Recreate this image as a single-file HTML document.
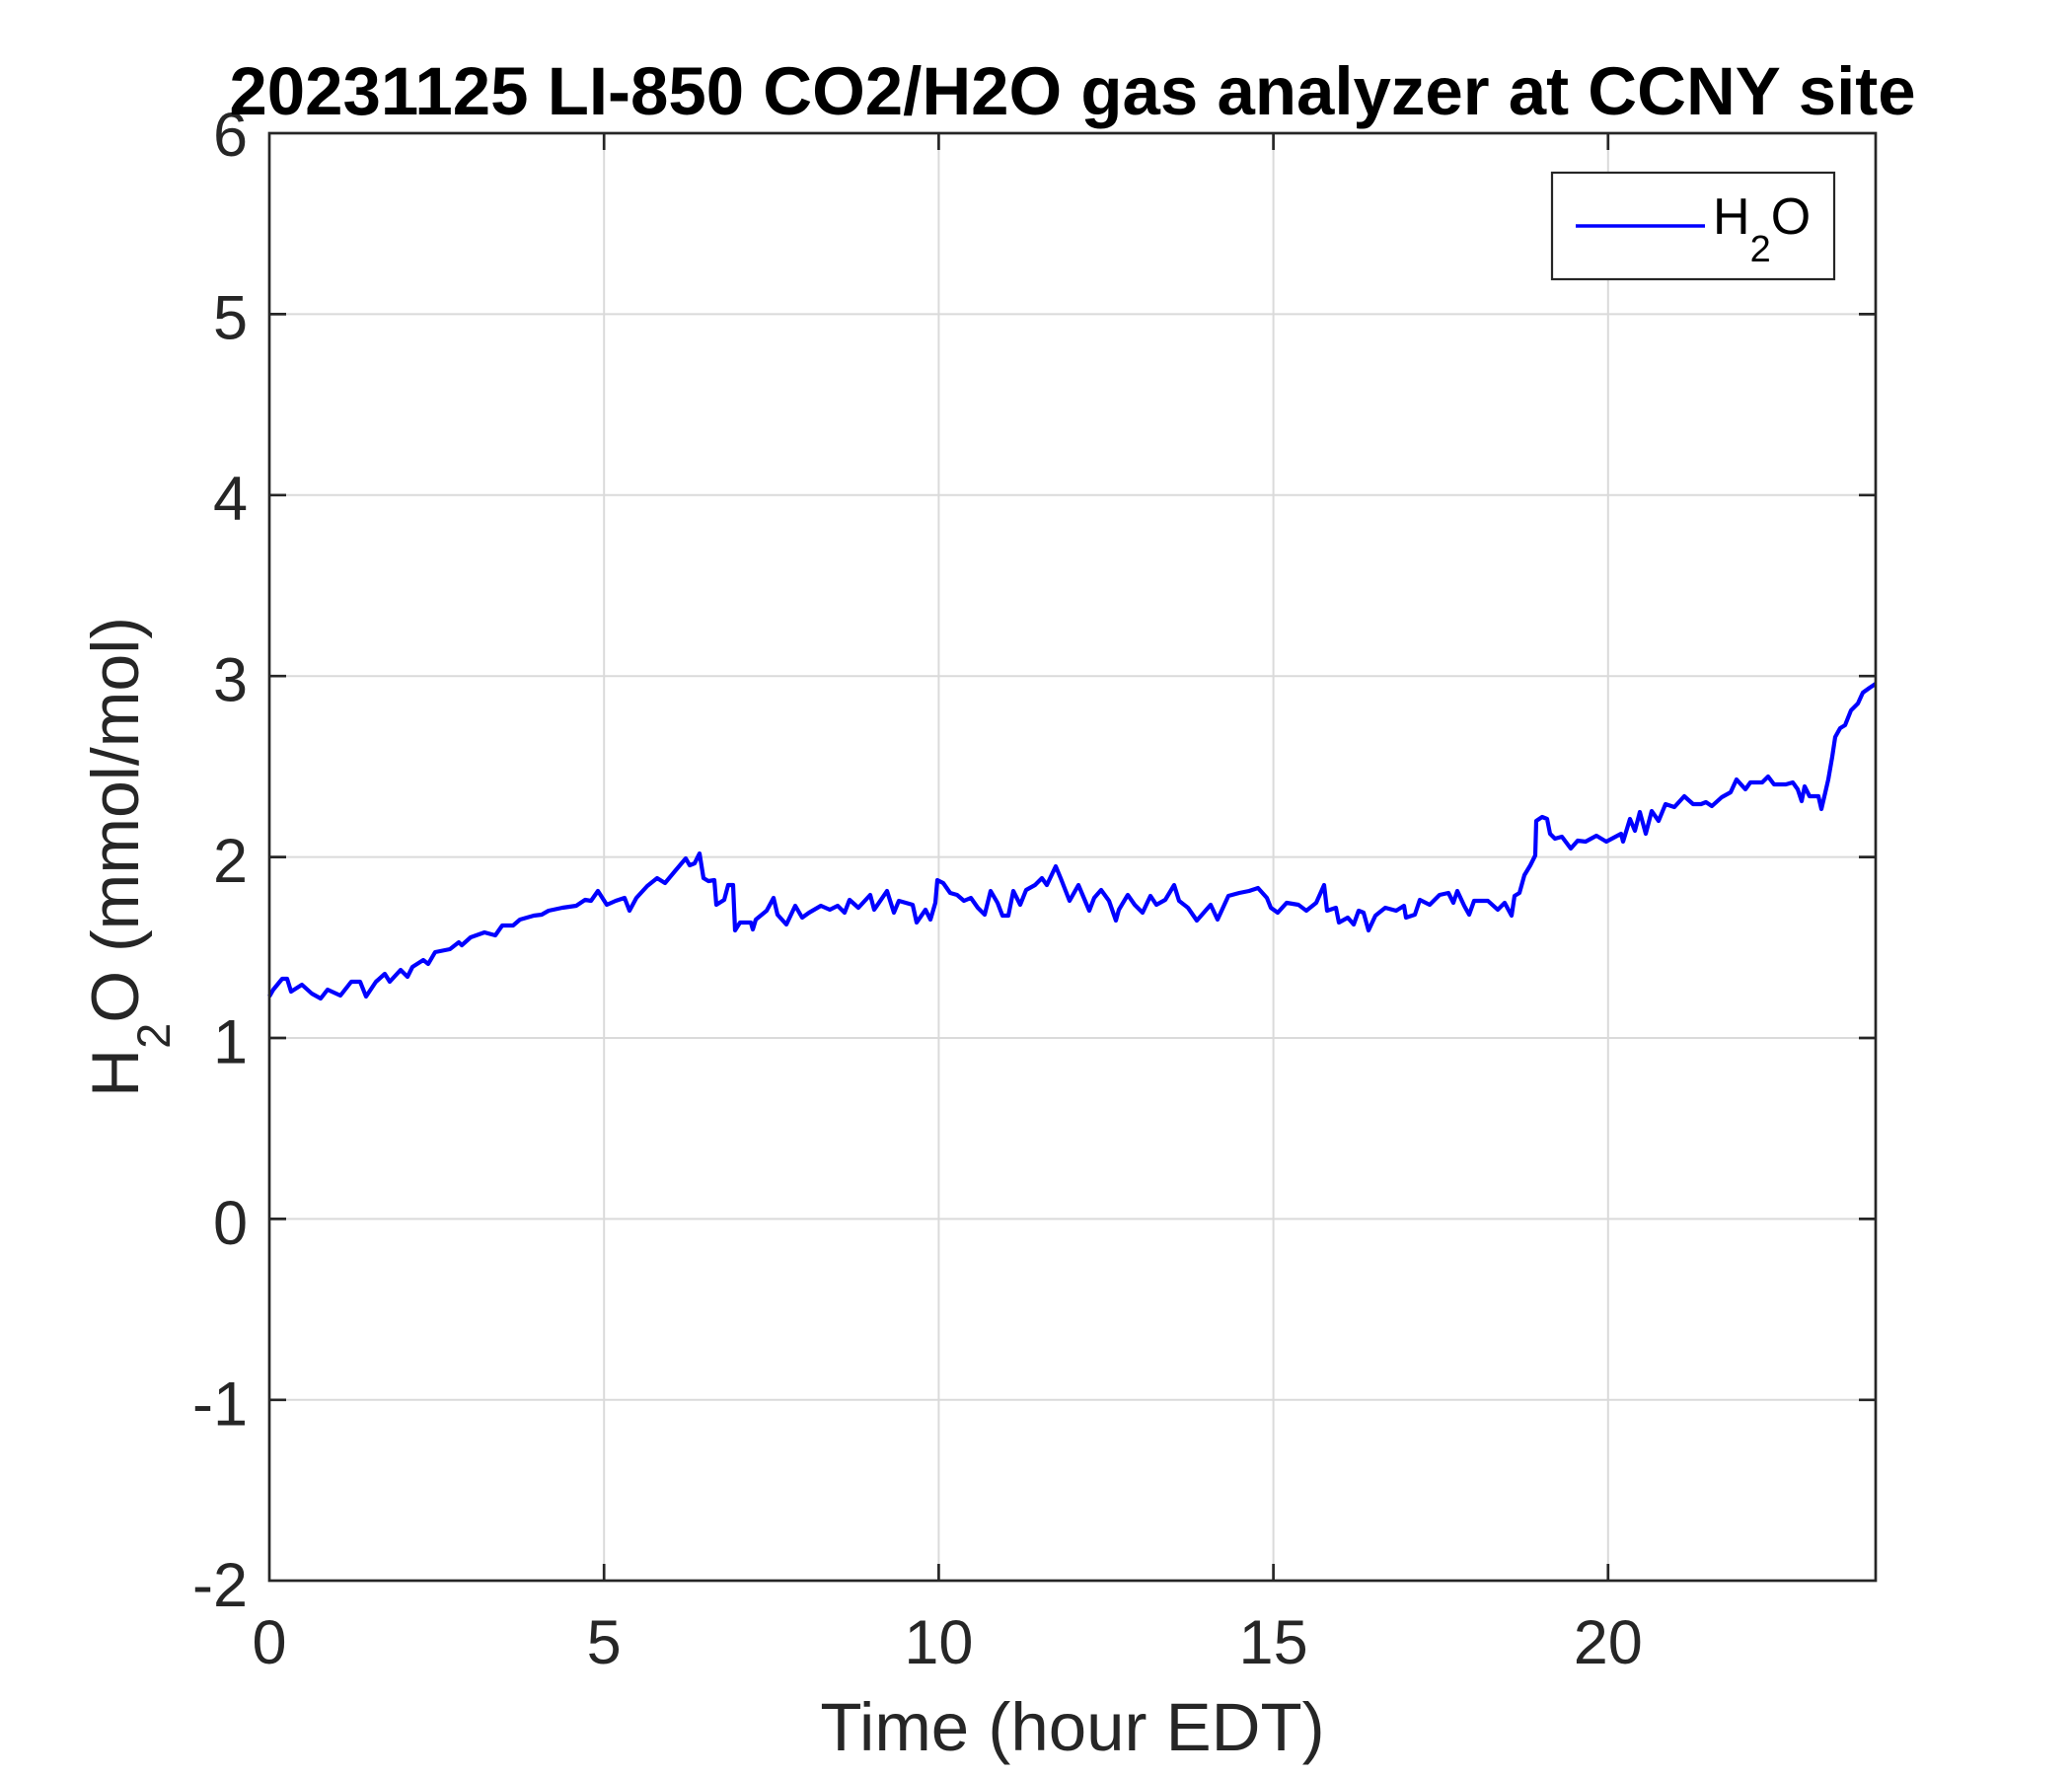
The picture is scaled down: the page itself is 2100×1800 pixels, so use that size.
<!DOCTYPE html>
<html>
<head>
<meta charset="utf-8">
<style>
  html, body { margin: 0; padding: 0; background: #ffffff; }
  svg { display: block; }
  text { font-family: "Liberation Sans", Arial, sans-serif; }
</style>
</head>
<body>
<svg width="2100" height="1800" viewBox="0 0 2100 1800" xmlns="http://www.w3.org/2000/svg">
  <rect x="0" y="0" width="2100" height="1800" fill="#ffffff"/>

  <!-- grid lines -->
  <g stroke="#dadada" stroke-width="2" fill="none">
    <line x1="612.2" y1="135" x2="612.2" y2="1602"/>
    <line x1="951.4" y1="135" x2="951.4" y2="1602"/>
    <line x1="1290.6" y1="135" x2="1290.6" y2="1602"/>
    <line x1="1629.8" y1="135" x2="1629.8" y2="1602"/>
    <line x1="273" y1="318.4" x2="1901" y2="318.4"/>
    <line x1="273" y1="501.8" x2="1901" y2="501.8"/>
    <line x1="273" y1="685.2" x2="1901" y2="685.2"/>
    <line x1="273" y1="868.6" x2="1901" y2="868.6"/>
    <line x1="273" y1="1052" x2="1901" y2="1052"/>
    <line x1="273" y1="1235.4" x2="1901" y2="1235.4"/>
    <line x1="273" y1="1418.8" x2="1901" y2="1418.8"/>
  </g>

  <!-- data -->
  <polyline fill="none" stroke="#0000ff" stroke-width="4.2" stroke-linejoin="round" points="
273,1010 277,1003 286,992 291,992 295,1005 306,998 316,1007 325,1012 332,1003 345,1009 356,995 365,995 371,1010 381,995 390,987 395,995 406,983 413,990 418,980 429,973 434,977 441,965 456,962 465,955 468,958 477,950 491,945 502,948 509,938 520,938 527,932 541,928 549,927 556,923 570,920 584,918 593,912 599,913 606,903 615,917 624,913 633,910 638,923 645,910 656,898 666,890 674,895 684,883 695,870 699,877 704,875 709,865 713,890 718,893 724,892 726,917 734,912 738,897 743,897 745,943 750,935 761,935 763,942 766,932 777,923 784,910 788,927 797,937 806,918 813,930
820,925 832,918 841,922 849,918 856,925 861,912 870,920 882,907 886,922 899,903 906,925 911,913 925,917 929,935 938,922 943,932 948,915 950,892 956,895 963,905 970,907 977,913 984,910 991,920 998,927 1004,903 1011,915 1016,928 1022,928 1027,903 1034,917 1040,902 1049,897 1056,890 1061,897 1070,878 1075,890 1084,913 1093,897 1104,923 1109,910 1116,902 1124,913 1131,933 1134,922 1143,907 1150,917 1158,925 1166,908 1172,917 1181,912 1190,897 1195,913 1204,920 1213,933 1220,925 1227,917 1234,932 1245,908 1256,905 1266,903 1275,900 1284,910 1288,920 1295,925 1304,915 1316,917 1324,923 1334,915 1342,897 1345,923 1354,920 1357,935 1366,930 1372,937
1377,923 1382,925 1387,943 1394,928 1404,920 1415,923 1423,918 1425,930 1434,927 1439,912 1449,917 1459,907 1468,905 1473,915 1477,903 1484,918 1489,927 1494,913 1508,913 1518,922 1525,915 1532,928 1535,908 1540,905 1545,887 1551,877 1556,867 1557,832 1563,828 1568,830 1571,845 1576,850 1583,848 1592,860 1599,852 1607,853 1618,847 1628,853 1643,845 1645,853 1652,830 1657,842 1662,823 1668,845 1674,822 1681,832 1688,815 1697,818 1707,807 1716,815 1724,815 1729,813 1735,817 1745,808 1754,803 1760,790 1769,800 1774,793 1786,793 1792,787 1798,795 1810,795 1817,793 1822,800 1826,812 1829,797 1834,807 1843,807 1846,820 1850,803 1853,790 1857,767 1860,747 1865,738 1870,735 1876,720 1883,713 1888,702 1895,697 1901,693"/>

  <!-- axes box -->
  <rect x="273" y="135" width="1628" height="1467" fill="none" stroke="#262626" stroke-width="2.7"/>

  <!-- ticks -->
  <g stroke="#262626" stroke-width="2.7">
    <line x1="612.2" y1="1602" x2="612.2" y2="1585"/>
    <line x1="951.4" y1="1602" x2="951.4" y2="1585"/>
    <line x1="1290.6" y1="1602" x2="1290.6" y2="1585"/>
    <line x1="1629.8" y1="1602" x2="1629.8" y2="1585"/>
    <line x1="612.2" y1="135" x2="612.2" y2="152"/>
    <line x1="951.4" y1="135" x2="951.4" y2="152"/>
    <line x1="1290.6" y1="135" x2="1290.6" y2="152"/>
    <line x1="1629.8" y1="135" x2="1629.8" y2="152"/>
    <line x1="273" y1="318.4" x2="290" y2="318.4"/>
    <line x1="273" y1="501.8" x2="290" y2="501.8"/>
    <line x1="273" y1="685.2" x2="290" y2="685.2"/>
    <line x1="273" y1="868.6" x2="290" y2="868.6"/>
    <line x1="273" y1="1052" x2="290" y2="1052"/>
    <line x1="273" y1="1235.4" x2="290" y2="1235.4"/>
    <line x1="273" y1="1418.8" x2="290" y2="1418.8"/>
    <line x1="1901" y1="318.4" x2="1884" y2="318.4"/>
    <line x1="1901" y1="501.8" x2="1884" y2="501.8"/>
    <line x1="1901" y1="685.2" x2="1884" y2="685.2"/>
    <line x1="1901" y1="868.6" x2="1884" y2="868.6"/>
    <line x1="1901" y1="1052" x2="1884" y2="1052"/>
    <line x1="1901" y1="1235.4" x2="1884" y2="1235.4"/>
    <line x1="1901" y1="1418.8" x2="1884" y2="1418.8"/>
  </g>

  <!-- x tick labels -->
  <g font-size="63" fill="#262626" text-anchor="middle">
    <text x="273" y="1686">0</text>
    <text x="612.2" y="1686">5</text>
    <text x="951.4" y="1686">10</text>
    <text x="1290.6" y="1686">15</text>
    <text x="1629.8" y="1686">20</text>
  </g>

  <!-- y tick labels -->
  <g font-size="63" fill="#262626" text-anchor="end">
    <text x="251" y="158">6</text>
    <text x="251" y="343.5">5</text>
    <text x="251" y="527">4</text>
    <text x="251" y="710.5">3</text>
    <text x="251" y="894">2</text>
    <text x="251" y="1077.5">1</text>
    <text x="251" y="1261">0</text>
    <text x="251" y="1444.5">-1</text>
    <text x="251" y="1628">-2</text>
  </g>

  <!-- title -->
  <text x="1087" y="116" font-size="69" font-weight="bold" fill="#000000" text-anchor="middle">20231125 LI-850 CO2/H2O gas analyzer at CCNY site</text>

  <!-- x label -->
  <text x="1087" y="1774" font-size="69" fill="#262626" text-anchor="middle">Time (hour EDT)</text>

  <!-- y label -->
  <text transform="translate(140,868.5) rotate(-90)" font-size="68" fill="#262626" text-anchor="middle">H<tspan font-size="47" dy="32">2</tspan><tspan dy="-32">O (mmol/mol)</tspan></text>

  <!-- legend -->
  <rect x="1573" y="175" width="286" height="108" fill="#ffffff" stroke="#262626" stroke-width="2.2"/>
  <line x1="1597" y1="229" x2="1728" y2="229" stroke="#0000ff" stroke-width="3.5"/>
  <text x="1736" y="237" font-size="52" fill="#000000">H<tspan font-size="38" dy="28">2</tspan><tspan dy="-28">O</tspan></text>
</svg>
</body>
</html>
